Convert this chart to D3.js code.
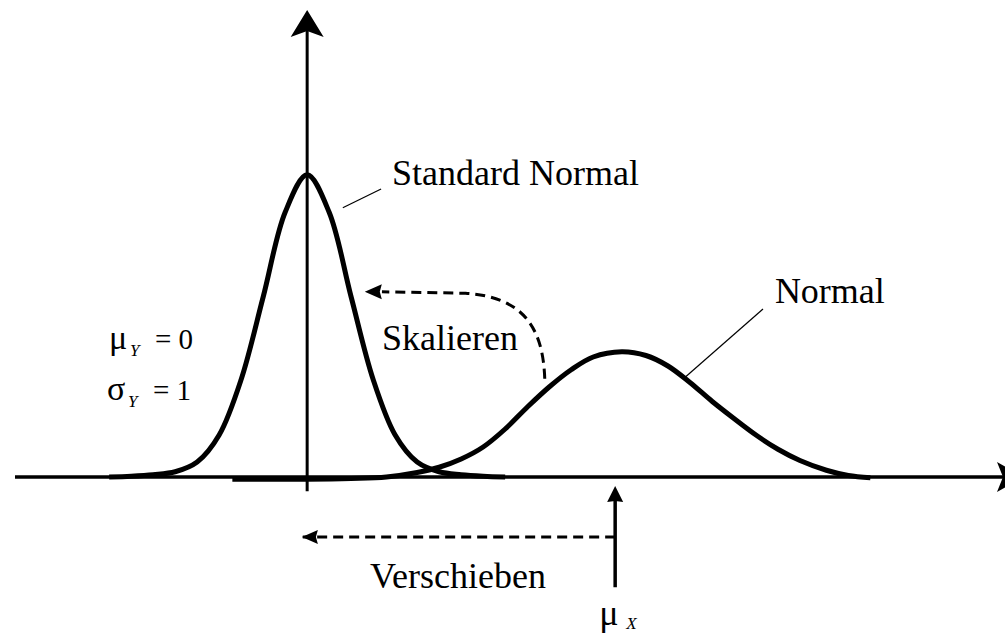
<!DOCTYPE html>
<html>
<head>
<meta charset="utf-8">
<script src="https://cdn.jsdelivr.net/npm/d3@7"></script>
<style>
  body { margin: 0; background: #fff; }
</style>
</head>
<body>
<script>
// standard normal curve (x in sigma units, y = density)
var stdX = [-4.5, -4, -3.5, -3, -2.5, -2, -1.5, -1, -0.5, 0, 0.5, 1, 1.5, 2, 2.5, 3, 3.5, 4, 4.5];
var stdY = [0, 0.001, 0.003, 0.007, 0.02, 0.056, 0.13, 0.24, 0.353, 0.403, 0.353, 0.24, 0.13, 0.056, 0.02, 0.007, 0.003, 0.001, 0];

// shifted / wider normal curve
var normX = [-1.7, 0, 1, 1.8, 2.5, 3, 3.5, 4, 4.5, 5, 5.5, 6, 6.5, 7.15, 7.7, 8.2, 8.7, 9.2, 9.7, 10.2, 10.7, 11.2, 11.8, 12.3, 12.8];
var normY = [-0.003, -0.003, -0.002, 0, 0.006, 0.013, 0.024, 0.04, 0.064, 0.093, 0.12, 0.143, 0.16, 0.167, 0.162, 0.148, 0.126, 0.101, 0.078, 0.056, 0.037, 0.022, 0.009, 0.002, -0.001];

var muY = 0, muX = 7.0;
var labels = ["Standard Normal", "Normal", "Skalieren", "Verschieben"];

var width = 1005, height = 635;
var serif = "'Liberation Serif', 'DejaVu Serif', 'Times New Roman', serif";

var svg = d3.select("body").append("svg")
    .attr("width", width)
    .attr("height", height)
    .attr("font-family", serif);

var x = d3.scaleLinear().domain([-6.64, 15.86]).range([15, 1005]);
var y = d3.scaleLinear().domain([0, 0.6]).range([477, 27]);

// arrow head: tip point, direction (unit vector), length, half width, notch depth
function head(tx, ty, dx, dy, len, half, notch) {
  var bx = tx - dx * len, by = ty - dy * len;
  var px = -dy, py = dx;
  var nx = tx - dx * (len - notch), ny = ty - dy * (len - notch);
  return "M" + tx + "," + ty +
    "L" + (bx + px * half) + "," + (by + py * half) +
    "L" + nx + "," + ny +
    "L" + (bx - px * half) + "," + (by - py * half) + "Z";
}

// axes
svg.append("line")
    .attr("x1", 15).attr("x2", 1006)
    .attr("y1", y(0)).attr("y2", y(0))
    .attr("stroke", "#000").attr("stroke-width", 3.5);
svg.append("path")
    .attr("d", head(1024, y(0), 1, 0, 27, 15, 6))
    .attr("fill", "#000");

svg.append("line")
    .attr("x1", x(muY)).attr("x2", x(muY))
    .attr("y1", y(-0.019)).attr("y2", 30)
    .attr("stroke", "#000").attr("stroke-width", 3);
svg.append("path")
    .attr("d", head(x(muY), 10, 0, -1, 27, 16.5, 6))
    .attr("fill", "#000");

// curves
var line = d3.line()
    .x(function(d) { return x(d[0]); })
    .y(function(d) { return y(d[1]); })
    .curve(d3.curveCatmullRom);

svg.append("path")
    .datum(d3.zip(stdX, stdY))
    .attr("d", line)
    .attr("fill", "none").attr("stroke", "#000")
    .attr("stroke-width", 5).attr("stroke-linejoin", "round");

svg.append("path")
    .datum(d3.zip(normX, normY))
    .attr("d", line)
    .attr("fill", "none").attr("stroke", "#000")
    .attr("stroke-width", 5).attr("stroke-linejoin", "round");

// leader lines
svg.append("line")
    .attr("x1", x(0.81)).attr("y1", y(0.359))
    .attr("x2", x(1.68)).attr("y2", y(0.384))
    .attr("stroke", "#000").attr("stroke-width", 1.2);
svg.append("line")
    .attr("x1", x(8.59)).attr("y1", y(0.133))
    .attr("x2", x(10.36)).attr("y2", y(0.224))
    .attr("stroke", "#000").attr("stroke-width", 1.2);

// Skalieren: dashed curved arrow
var p = d3.path();
p.moveTo(x(5.40), y(0.131));
p.bezierCurveTo(x(5.36), y(0.2), x(4.9), y(0.24), x(3.6), y(0.245));
p.lineTo(x(1.7), y(0.247));
svg.append("path")
    .attr("d", p.toString())
    .attr("fill", "none").attr("stroke", "#000")
    .attr("stroke-width", 3).attr("stroke-dasharray", "10,6");
svg.append("path")
    .attr("d", head(x(1.31), y(0.247), -1, 0, 17, 7.5, 2))
    .attr("fill", "#000");

// Verschieben: dashed straight arrow
svg.append("line")
    .attr("x1", x(muX)).attr("x2", x(-0.1))
    .attr("y1", y(-0.08)).attr("y2", y(-0.08))
    .attr("stroke", "#000").attr("stroke-width", 3).attr("stroke-dasharray", "10,6");
svg.append("path")
    .attr("d", head(x(-0.12), y(-0.08), -1, 0, 16, 7, 2))
    .attr("fill", "#000");

// mu_X arrow
svg.append("line")
    .attr("x1", x(muX)).attr("x2", x(muX))
    .attr("y1", y(-0.147)).attr("y2", y(-0.025))
    .attr("stroke", "#000").attr("stroke-width", 3.5);
svg.append("path")
    .attr("d", head(x(muX), y(-0.012), 0, -1, 16, 8, 1))
    .attr("fill", "#000");

// labels
svg.append("text").attr("x", x(1.93)).attr("y", y(0.389))
    .attr("font-size", 36).text(labels[0]);
svg.append("text").attr("x", x(10.63)).attr("y", y(0.232))
    .attr("font-size", 36).text(labels[1]);
svg.append("text").attr("x", x(1.70)).attr("y", y(0.169))
    .attr("font-size", 36).text(labels[2]);
svg.append("text").attr("x", x(1.43)).attr("y", y(-0.148))
    .attr("font-size", 36).text(labels[3]);

// parameter labels
function param(px, py, sym, sub, val) {
  svg.append("text").attr("x", px).attr("y", py)
      .attr("font-size", 34).text(sym);
  svg.append("text").attr("x", px + 21).attr("y", py + 7)
      .attr("font-size", 17).attr("font-style", "italic").text(sub);
  svg.append("text").attr("x", px + 46).attr("y", py)
      .attr("font-size", 29).text("= " + val);
}
param(109, 349, "\u03bc", "Y", "0");
param(107, 400, "\u03c3", "Y", "1");

svg.append("text").attr("x", x(muX) - 16).attr("y", 625)
    .attr("font-size", 36).text("\u03bc");
svg.append("text").attr("x", x(muX) + 11).attr("y", 629)
    .attr("font-size", 17).attr("font-style", "italic").text("X");
</script>
</body>
</html>
